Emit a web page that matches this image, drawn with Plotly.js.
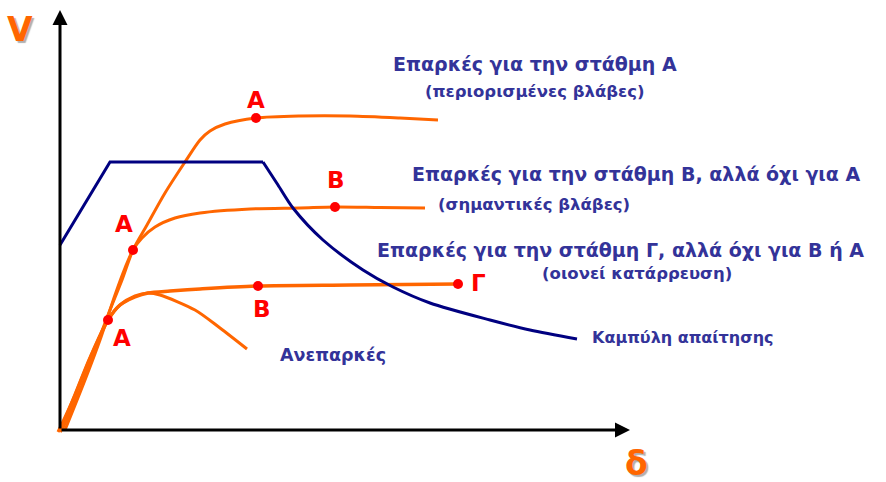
<!DOCTYPE html>
<html>
<head>
<meta charset="utf-8">
<script src="https://cdn.plot.ly/plotly-3.0.1.min.js"></script>
<style>html,body{margin:0;padding:0;background:#fff;}#chart{width:886px;height:482px;}</style>
</head>
<body>
<div id="chart"></div>
<script>
// Capacity curve reaching performance level A (top)
const curveA_x = [2, 20, 35, 48, 62, 73, 87, 105, 125, 140, 150, 165, 196, 240, 290, 340, 378];
const curveA_y = [0, 40, 80, 115, 150, 180, 205, 237, 268, 290, 299, 306, 312, 314, 314, 312, 310];
// Capacity curve reaching B but not A
const curveB_x = [5, 25, 40, 55, 65, 73, 82, 95, 115, 140, 190, 240, 275, 320, 365];
const curveB_y = [0, 50, 90, 135, 162, 180, 192, 203, 212, 217, 221, 222, 223, 222.5, 222];
// Capacity curve reaching Γ but not B or A
const curveG_x = [0, 15, 30, 48, 60, 75, 88, 110, 140, 198, 290, 398];
const curveG_y = [-2, 35, 72, 110, 125, 133, 137, 139, 141, 144, 145, 146];
// Inadequate capacity curve
const curveI_x = [-2, 15, 30, 48, 60, 75, 88, 100, 135, 160, 187];
const curveI_y = [-2, 35, 72, 110, 125, 134, 137, 135, 120, 102, 81];
// Demand curve: linear part and descending part
const demandLin_x = [0, 50, 203];
const demandLin_y = [185, 268, 268];
const demandCurve_x = [203, 218, 233, 263, 303, 333, 370, 430, 470, 517];
const demandCurve_y = [268, 245, 222, 190, 160, 143, 127, 110, 100, 91];
// Performance points
const points_x = [196, 275, 73, 48, 198, 398];
const points_y = [312, 223, 180, 110, 144, 146];
const pointLabels = ['Α', 'Β', 'Α', 'Α', 'Β', 'Γ'];
// Descriptive texts
const descTexts = [
  'Επαρκές για την στάθμη Α',
  '(περιορισμένες βλάβες)',
  'Επαρκές για την στάθμη Β, αλλά όχι για Α',
  '(σημαντικές βλάβες)',
  'Επαρκές για την στάθμη Γ, αλλά όχι για Β ή Α',
  '(οιονεί κατάρρευση)',
  'Καμπύλη απαίτησης',
  'Ανεπαρκές'
];
const axisLabels = ['V', 'δ'];

const ORANGE = '#ff6600';
const NAVY = '#000080';
const RED = '#ff0000';
const TXT = '#333399';
const FONT = 'DejaVu Sans, sans-serif';

const orangeLine = (x, y, w) => ({x, y, type: 'scatter', mode: 'lines',
  line: {color: ORANGE, width: w || 3, shape: 'spline', smoothing: 0.8}, hoverinfo: 'skip'});

const traces = [
  orangeLine(curveI_x, curveI_y),
  orangeLine(curveG_x, curveG_y, 3.5),
  orangeLine(curveB_x, curveB_y),
  orangeLine(curveA_x, curveA_y),
  {x: demandLin_x, y: demandLin_y, type: 'scatter', mode: 'lines', line: {color: NAVY, width: 3}},
  {x: demandCurve_x, y: demandCurve_y, type: 'scatter', mode: 'lines', line: {color: NAVY, width: 3, shape: 'spline', smoothing: 0.8}},
  {x: points_x, y: points_y, type: 'scatter', mode: 'markers', marker: {color: RED, size: 10}}
];

const labelOffsets = [[0, 18], [1, 27], [-9, 26], [14, -18], [4, -23], [20, 1]];
const annotations = [];
pointLabels.forEach((t, i) => {
  annotations.push({x: points_x[i] + labelOffsets[i][0], y: points_y[i] + labelOffsets[i][1], text: '<b>' + t + '</b>',
    showarrow: false, font: {family: FONT, size: 23, color: RED}});
});
const descPos = [[475, 366, 19], [475, 339, 16.5], [576, 256, 19], [474, 226, 16.5], [560, 180, 19], [577, 157, 16.5], [623, 93, 16], [273, 75, 17.5]];
descTexts.forEach((t, i) => {
  annotations.push({x: descPos[i][0], y: descPos[i][1], text: '<b>' + t + '</b>', showarrow: false,
    font: {family: FONT, size: descPos[i][2], color: TXT}});
});
// axis labels with shadow
const axPos = [[-40, 401], [576, -33]];
axisLabels.forEach((t, i) => {
  annotations.push({x: axPos[i][0], y: axPos[i][1], text: '<b>' + t + '</b>', showarrow: false,
    font: {family: FONT, size: 33, color: ORANGE, shadow: '2px 2px 1px #b0b0b0'}});
});
// axis arrows
annotations.push({x: 0, y: 420, ax: 0, ay: 0, axref: 'x', ayref: 'y', xref: 'x', yref: 'y', text: '',
  showarrow: true, arrowhead: 2, arrowsize: 1, arrowwidth: 3, arrowcolor: '#000'});
annotations.push({x: 570, y: 0, ax: 0, ay: 0, axref: 'x', ayref: 'y', xref: 'x', yref: 'y', text: '',
  showarrow: true, arrowhead: 2, arrowsize: 1, arrowwidth: 3, arrowcolor: '#000'});

const layout = {
  width: 886, height: 482,
  margin: {l: 0, r: 0, t: 0, b: 0},
  paper_bgcolor: '#fff', plot_bgcolor: '#fff',
  showlegend: false,
  xaxis: {range: [-60, 826], visible: false, fixedrange: true},
  yaxis: {range: [-52, 430], visible: false, fixedrange: true},
  annotations
};
Plotly.newPlot('chart', traces, layout, {staticPlot: true});
</script>
</body>
</html>
